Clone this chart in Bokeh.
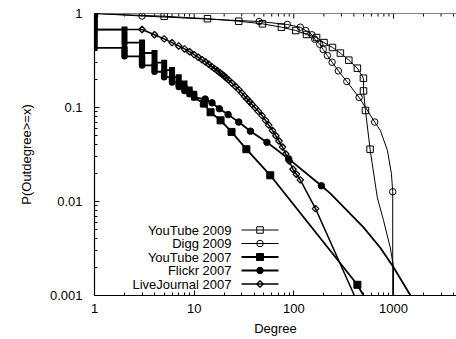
import math
from bokeh.plotting import figure
from bokeh.models import Range1d, FixedTicker, CustomJSTickFormatter, Span
from bokeh.core.properties import value
from bokeh.embed import file_html
from bokeh.resources import INLINE

# ---------------- data ----------------
series_names = ["YouTube 2009", "Digg 2009", "YouTube 2007", "Flickr 2007", "LiveJournal 2007"]

# YouTube 2009 (open squares)
yt09_deg = [1, 5, 13.6, 28, 48.4, 75, 104.5, 134, 169, 201, 244, 293, 356, 434, 499, 500, 523, 582]
yt09_p = [1.0, 0.935, 0.88, 0.828, 0.777, 0.715, 0.659, 0.598, 0.555, 0.49, 0.435, 0.379, 0.319,
          0.262, 0.205, 0.150, 0.093, 0.036]
yt09_tail_deg = [688, 794, 930, 1000, 1000]
yt09_tail_p = [0.011, 0.0063, 0.0032, 0.002, 0.001]

# Digg 2009 (open circles)
digg_deg = [1, 3, 44.9, 86, 116, 131.6, 152, 162, 182, 197, 217, 242, 280, 340, 452, 648, 982]
digg_p = [1.0, 0.94, 0.822, 0.764, 0.715, 0.659, 0.593, 0.533, 0.471, 0.414, 0.357, 0.303, 0.245,
          0.189, 0.128, 0.070, 0.0127]
digg_tail_deg = [738, 868, 953, 982]
digg_tail_p = [0.057, 0.035, 0.0198, 0.001]

# YouTube 2007 (filled squares): per-degree columns, then single points
yt07_col_deg = [1, 2, 3, 4, 5, 6, 7, 8, 9, 10]
yt07_col_top = [1.0, 0.675, 0.49, 0.38, 0.30, 0.25, 0.21, 0.18, 0.155, 0.14]
yt07_col_bot = [0.675, 0.49, 0.38, 0.30, 0.25, 0.21, 0.18, 0.155, 0.14, 0.128]
yt07_deg = [12.5, 14.6, 18.4, 23.7, 33.4, 58, 434]
yt07_p = [0.11, 0.089, 0.073, 0.055, 0.036, 0.019, 0.0013]
yt07_tail_deg = [500]
yt07_tail_p = [0.001]

# Flickr 2007 (filled circles)
flickr_col_deg = [1, 2, 3, 4, 5, 6, 7, 8, 9, 10]
flickr_col_top = [1.0, 0.43, 0.35, 0.28, 0.24, 0.21, 0.185, 0.165, 0.15, 0.138]
flickr_col_bot = [0.43, 0.35, 0.28, 0.24, 0.21, 0.185, 0.165, 0.15, 0.138, 0.128]
flickr_deg = [12.9, 15.1, 17.9, 21.9, 28, 36.7, 53.7, 88.8, 189]
flickr_p = [0.123, 0.112, 0.097, 0.084, 0.070, 0.056, 0.0426, 0.0284, 0.0147]
flickr_tail_deg = [232, 500, 740, 1000, 1480]
flickr_tail_p = [0.0122, 0.0053, 0.0032, 0.002, 0.001]

# LiveJournal 2007 (open diamonds)
lj_col_deg = [1]
lj_col_top = [1.0]
lj_col_bot = [0.675]
lj_deg = [3, 4, 5, 6, 7, 8, 9, 10, 11, 12, 13, 14, 15, 16, 17, 18, 19, 20, 21, 22, 24, 26, 28, 30,
          32, 34, 36, 38, 41, 44, 48, 52, 56, 61, 66, 71, 77, 83, 90, 98, 106, 116, 165]
lj_p = [0.675, 0.595, 0.537, 0.49, 0.452, 0.42, 0.392, 0.365, 0.342, 0.322, 0.305, 0.289, 0.272,
        0.259, 0.247, 0.236, 0.226, 0.216, 0.206, 0.197, 0.181, 0.167, 0.155, 0.143, 0.132, 0.123,
        0.115, 0.108, 0.099, 0.091, 0.082, 0.073, 0.065, 0.057, 0.050, 0.044, 0.038, 0.032, 0.027,
        0.022, 0.0195, 0.017, 0.0084]
lj_tail_deg = [405]
lj_tail_p = [0.001]

x_major = [1, 10, 100, 1000]
y_major = [0.001, 0.01, 0.1, 1]

# ---------------- layout ----------------
X0, X1 = 1, 4285
Y0, Y1 = 0.001, 1
FL, FT, FW, FH = 94, 13, 362, 282
FONT = "Liberation Sans"
FS = "13px"

p = figure(width=456, height=339, x_axis_type="log", y_axis_type="log",
           x_range=Range1d(X0, X1), y_range=Range1d(Y0, Y1),
           output_backend="svg", toolbar_location=None,
           min_border_left=FL, min_border_right=0, min_border_top=FT, min_border_bottom=44,
           x_axis_label="Degree", y_axis_label="P(Outdegree>=x)")
p.grid.visible = False
p.outline_line_color = None
p.background_fill_color = "white"
p.border_fill_color = "white"

x_minor = [m * 10 ** k for k in range(0, 4) for m in range(2, 10) if m * 10 ** k < X1]
y_minor = [m * 10.0 ** k for k in range(-3, 0) for m in range(2, 10)]
fmt = CustomJSTickFormatter(code="return tick.toString();")


def style_axis(ax):
    ax.axis_line_color = "black"
    ax.axis_line_width = 1.2
    ax.major_tick_in = 5
    ax.major_tick_out = 0
    ax.minor_tick_in = 3
    ax.minor_tick_out = 0
    ax.major_tick_line_color = "black"
    ax.minor_tick_line_color = "black"
    ax.major_label_text_font = FONT
    ax.major_label_text_font_size = FS
    ax.major_label_text_color = "black"
    ax.axis_label_text_font = FONT
    ax.axis_label_text_font_size = FS
    ax.axis_label_text_font_style = "normal"
    ax.axis_label_text_color = "black"


xa = p.xaxis[0]
xa.ticker = FixedTicker(ticks=x_major, minor_ticks=x_minor)
xa.formatter = fmt
style_axis(xa)
xa.major_label_standoff = 8
xa.axis_label_standoff = 5

ya = p.yaxis[0]
ya.ticker = FixedTicker(ticks=y_major, minor_ticks=y_minor)
ya.formatter = fmt
style_axis(ya)
ya.major_label_standoff = 12
ya.axis_label_standoff = 13


def px_x(px):
    return 10 ** (math.log10(X0) + (px - FL) / FW * (math.log10(X1) - math.log10(X0)))


def px_y(py):
    return 10 ** (math.log10(Y1) - (py - FT) / FH * (math.log10(Y1) - math.log10(Y0)))


# top border with inward mirror ticks (gnuplot style)
p.add_layout(Span(location=Y1, dimension="width", line_color="black", line_width=1.2))
p.segment(x0=x_major, y0=[Y1] * len(x_major), x1=x_major, y1=[px_y(FT + 5)] * len(x_major),
          line_color="black", line_width=1)
p.segment(x0=x_minor, y0=[Y1] * len(x_minor), x1=x_minor, y1=[px_y(FT + 3)] * len(x_minor),
          line_color="black", line_width=1)


def build_path(cd, ct, cb, md, mp, td, tp):
    xs, ys = [], []
    for d, t, b in zip(cd, ct, cb):
        xs += [d, d]
        ys += [t, b]
    pts = sorted(zip(list(md) + list(td), list(mp) + list(tp)), key=lambda q: (q[0], -q[1]))
    xs += [q[0] for q in pts]
    ys += [q[1] for q in pts]
    return xs, ys


LW = {"YouTube 2009": 1, "Digg 2009": 1, "YouTube 2007": 1.8, "Flickr 2007": 1.8, "LiveJournal 2007": 1.5}

x, y = build_path([], [], [], yt09_deg, yt09_p, yt09_tail_deg, yt09_tail_p)
p.line(x, y, line_color="black", line_width=LW["YouTube 2009"])
x, y = build_path([], [], [], digg_deg, digg_p, digg_tail_deg, digg_tail_p)
p.line(x, y, line_color="black", line_width=LW["Digg 2009"])
x, y = build_path(yt07_col_deg, yt07_col_top, yt07_col_bot, yt07_deg, yt07_p, yt07_tail_deg, yt07_tail_p)
p.line(x, y, line_color="black", line_width=LW["YouTube 2007"])
x, y = build_path(flickr_col_deg, flickr_col_top, flickr_col_bot, flickr_deg, flickr_p, flickr_tail_deg, flickr_tail_p)
p.line(x, y, line_color="black", line_width=LW["Flickr 2007"])
x, y = build_path(lj_col_deg, lj_col_top, lj_col_bot, lj_deg, lj_p, lj_tail_deg, lj_tail_p)
p.line(x, y, line_color="black", line_width=LW["LiveJournal 2007"])

# column bands (stacked markers at small degrees)
p.segment(x0=yt07_col_deg, y0=yt07_col_top, x1=yt07_col_deg, y1=yt07_col_bot,
          line_width=6, line_cap="square", line_color="black")
p.segment(x0=flickr_col_deg, y0=flickr_col_top, x1=flickr_col_deg, y1=flickr_col_bot,
          line_width=6.5, line_cap="round", line_color="black")

STY = {
    "YouTube 2009": dict(marker="square", size=6.5, fill_color=None, line_color="black", line_width=1),
    "Digg 2009": dict(marker="circle", size=6.5, fill_color=None, line_color="black", line_width=1),
    "YouTube 2007": dict(marker="square", size=7, fill_color="black", line_color="black", line_width=1),
    "Flickr 2007": dict(marker="circle", size=6.5, fill_color="black", line_color="black", line_width=1),
    "LiveJournal 2007": dict(marker="square", size=4.6, angle=math.pi / 4, fill_color=None,
                             line_color="black", line_width=1.3),
}

p.scatter(yt09_deg, yt09_p, **STY["YouTube 2009"])
p.scatter(digg_deg, digg_p, **STY["Digg 2009"])
p.scatter(yt07_deg, yt07_p, **STY["YouTube 2007"])
p.scatter(flickr_deg, flickr_p, **STY["Flickr 2007"])
p.scatter(lj_deg, lj_p, **STY["LiveJournal 2007"])

# ---------------- legend (gnuplot style: text left, sample right) ----------------
leg_rows = [229.5 + 13.5 * i for i in range(len(series_names))]
p.text(x=[px_x(231)] * len(series_names), y=[px_y(r) for r in leg_rows], text=series_names,
       text_align="right", text_baseline="middle", text_font=value(FONT),
       text_font_size=FS, text_color="black")
for name, r in zip(series_names, leg_rows):
    yy = px_y(r)
    p.line([px_x(241), px_x(278)], [yy, yy], line_color="black", line_width=LW[name])
    p.scatter([px_x(259.5)], [yy], **STY[name])

open("out.html", "w").write(file_html(p, INLINE))
